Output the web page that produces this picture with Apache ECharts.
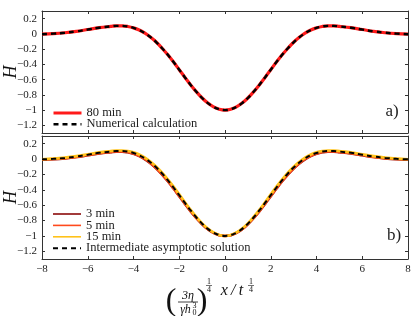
<!DOCTYPE html>
<html>
<head>
<meta charset="utf-8">
<script src="https://cdn.jsdelivr.net/npm/echarts@6/dist/echarts.min.js"></script>
<style>
html,body{margin:0;padding:0;background:#fff;}
#c{width:415px;height:316px;}
</style>
</head>
<body>
<div id="c"></div>
<script>
// x positions (scaled similarity variable)
const xs = [-8,-7.5,-7,-6.5,-6,-5.5,-5,-4.75,-4.5,-4.25,-4,-3.75,-3.5,-3.25,-3,-2.75,-2.5,-2.25,-2,-1.75,-1.5,-1.25,-1,-0.75,-0.5,-0.25,0,
            0.25,0.5,0.75,1,1.25,1.5,1.75,2,2.25,2.5,2.75,3,3.25,3.5,3.75,4,4.25,4.5,4.75,5,5.5,6,6.5,7,7.5,8];

// panel a)
const h80min = [-0.004,0.003,0.015,0.033,0.057,0.081,0.098,0.105,0.105,0.097,0.079,0.050,0.009,-0.045,-0.110,-0.188,-0.275,-0.370,-0.470,-0.571,-0.669,-0.760,-0.841,-0.908,-0.958,-0.989,-1.000,
                -0.989,-0.958,-0.908,-0.841,-0.760,-0.669,-0.571,-0.470,-0.370,-0.275,-0.188,-0.110,-0.045,0.009,0.050,0.079,0.097,0.105,0.105,0.098,0.081,0.057,0.033,0.015,0.003,-0.004];
const hNumerical = [-0.004,0.003,0.015,0.033,0.057,0.081,0.098,0.105,0.105,0.097,0.079,0.050,0.009,-0.045,-0.110,-0.188,-0.275,-0.370,-0.470,-0.571,-0.669,-0.760,-0.841,-0.908,-0.958,-0.989,-1.000,
                -0.989,-0.958,-0.908,-0.841,-0.760,-0.669,-0.571,-0.470,-0.370,-0.275,-0.188,-0.110,-0.045,0.009,0.050,0.079,0.097,0.105,0.105,0.098,0.081,0.057,0.033,0.015,0.003,-0.004];

// panel b)
const h3min = [-0.008,-0.002,0.009,0.026,0.049,0.073,0.090,0.097,0.097,0.088,0.068,0.038,-0.003,-0.058,-0.124,-0.202,-0.289,-0.384,-0.484,-0.584,-0.680,-0.769,-0.848,-0.913,-0.961,-0.990,-1.000,
               -0.990,-0.961,-0.913,-0.848,-0.769,-0.680,-0.584,-0.484,-0.384,-0.289,-0.202,-0.124,-0.058,-0.003,0.038,0.068,0.088,0.097,0.097,0.090,0.073,0.049,0.026,0.009,-0.002,-0.008];
const h5min = [-0.006,0.000,0.011,0.028,0.052,0.076,0.093,0.100,0.100,0.091,0.072,0.042,0.001,-0.054,-0.120,-0.198,-0.285,-0.380,-0.480,-0.580,-0.677,-0.766,-0.846,-0.912,-0.960,-0.990,-1.000,
               -0.990,-0.960,-0.912,-0.846,-0.766,-0.677,-0.580,-0.480,-0.380,-0.285,-0.198,-0.120,-0.054,0.001,0.042,0.072,0.091,0.100,0.100,0.093,0.076,0.052,0.028,0.011,0.000,-0.006];
const h15min = [-0.002,0.006,0.019,0.038,0.062,0.087,0.104,0.111,0.112,0.105,0.088,0.060,0.019,-0.034,-0.098,-0.176,-0.263,-0.358,-0.459,-0.561,-0.661,-0.753,-0.836,-0.904,-0.955,-0.988,-1.000,
                -0.988,-0.955,-0.904,-0.836,-0.753,-0.661,-0.561,-0.459,-0.358,-0.263,-0.176,-0.098,-0.034,0.019,0.060,0.088,0.105,0.112,0.111,0.104,0.087,0.062,0.038,0.019,0.006,-0.002];
const hAsymptotic = [-0.004,0.003,0.015,0.033,0.057,0.081,0.098,0.105,0.105,0.097,0.079,0.050,0.009,-0.045,-0.110,-0.188,-0.275,-0.370,-0.470,-0.571,-0.669,-0.760,-0.841,-0.908,-0.958,-0.989,-1.000,
                -0.989,-0.958,-0.908,-0.841,-0.760,-0.669,-0.571,-0.470,-0.370,-0.275,-0.188,-0.110,-0.045,0.009,0.050,0.079,0.097,0.105,0.105,0.098,0.081,0.057,0.033,0.015,0.003,-0.004];

// ticks
const yTicks = [-1.2,-1,-0.8,-0.6,-0.4,-0.2,0,0.2];
const xTicks = [-8,-6,-4,-2,0,2,4,6,8];

const FONT = "'Liberation Serif','DejaVu Serif',serif";
const AX = '#333';

function pairs(v){ return xs.map((x,i)=>[x,v[i]]); }
function fmt(v){
  let s = (Math.round(v*10)/10).toString();
  return s.replace('-', '\u2212');
}

function xAx(grid, pos, labels){
  return {
    type:'value', gridIndex:grid, position:pos, min:-8, max:8, interval:2,
    axisLine:{show:true, onZero:false, lineStyle:{color:AX, width:1}},
    axisTick:{show:true, inside:true, length:3, lineStyle:{color:AX}, customValues:xTicks},
    axisLabel:{show:labels, margin:5, fontFamily:FONT, fontSize:11, color:'#222', customValues:xTicks, formatter:fmt},
    splitLine:{show:false}
  };
}
function yAx(grid, pos, labels){
  const o = {
    type:'value', gridIndex:grid, position:pos, min:-1.3, max:0.3,
    axisLine:{show:true, onZero:false, lineStyle:{color:AX, width:1}},
    axisTick:{show:true, inside:true, length:3, lineStyle:{color:AX}, customValues:yTicks},
    axisLabel:{show:labels, margin:5, fontFamily:FONT, fontSize:11, color:'#222', customValues:yTicks, formatter:fmt},
    splitLine:{show:false}
  };
  if (labels) {
    o.name = 'H'; o.nameLocation = 'middle'; o.nameRotate = 90; o.nameGap = 22; o.nameMoveOverlap = false;
    o.nameTextStyle = {fontFamily:FONT, fontStyle:'italic', fontSize:18, color:'#111'};
  }
  return o;
}

const chart = echarts.init(document.getElementById('c'), null, {renderer:'canvas'});
const legendText = {fontFamily:FONT, fontSize:12.5, lineHeight:11, color:'#222'};

const option = {
  animation:false,
  backgroundColor:'#fff',
  grid:[
    {left:42, right:7, top:11, height:122, containLabel:false, outerBoundsMode:'none'},
    {left:42, right:7, top:136, height:123, containLabel:false, outerBoundsMode:'none'}
  ],
  xAxis:[xAx(0,'bottom',false), xAx(0,'top',false), xAx(1,'bottom',true), xAx(1,'top',false)],
  yAxis:[yAx(0,'left',true), yAx(0,'right',false), yAx(1,'left',true), yAx(1,'right',false)],
  legend:[
    {left:52, top:106.5, orient:'vertical', padding:0, itemGap:-1.8, itemWidth:28, itemHeight:11,
     selectedMode:false, textStyle:legendText, itemStyle:{opacity:0},
     data:[{name:'80 min', lineStyle:{width:3}}, {name:'Numerical calculation', lineStyle:{width:2.6}}]},
    {left:52, top:207.5, orient:'vertical', padding:0, itemGap:-1.6, itemWidth:28, itemHeight:11,
     selectedMode:false, textStyle:legendText, itemStyle:{opacity:0}, lineStyle:{width:1.6},
     data:['3 min','5 min','15 min',{name:'Intermediate asymptotic solution', lineStyle:{width:2}}]}
  ],
  series:[
    {name:'80 min', type:'line', xAxisIndex:0, yAxisIndex:0, data:pairs(h80min), smooth:0.4, showSymbol:false, symbol:'none',
     lineStyle:{color:'#ff1a1a', width:3.2}, itemStyle:{color:'#ff1a1a'}},
    {name:'Numerical calculation', type:'line', xAxisIndex:0, yAxisIndex:0, data:pairs(hNumerical), smooth:0.4, showSymbol:false, symbol:'none',
     lineStyle:{color:'#000', width:2.4, type:[5,4]}, itemStyle:{color:'#000'}},
    {name:'3 min', type:'line', xAxisIndex:2, yAxisIndex:2, data:pairs(h3min), smooth:0.4, showSymbol:false, symbol:'none',
     lineStyle:{color:'#8b0a0a', width:2.6}, itemStyle:{color:'#8b0a0a'}},
    {name:'5 min', type:'line', xAxisIndex:2, yAxisIndex:2, data:pairs(h5min), smooth:0.4, showSymbol:false, symbol:'none',
     lineStyle:{color:'#ff4a1c', width:2.6}, itemStyle:{color:'#ff4a1c'}},
    {name:'15 min', type:'line', xAxisIndex:2, yAxisIndex:2, data:pairs(h15min), smooth:0.4, showSymbol:false, symbol:'none',
     lineStyle:{color:'#ffc21a', width:2.6}, itemStyle:{color:'#ffc21a'}},
    {name:'Intermediate asymptotic solution', type:'line', xAxisIndex:2, yAxisIndex:2, data:pairs(hAsymptotic), smooth:0.4, showSymbol:false, symbol:'none',
     lineStyle:{color:'#000', width:2, type:[5,4]}, itemStyle:{color:'#000'}}
  ],
  graphic:[
    {type:'text', x:392, y:112, style:{text:'a)', font:'17px '+FONT, fill:'#222', textAlign:'center', textVerticalAlign:'middle', align:'center', verticalAlign:'middle'}},
    {type:'text', x:394, y:236, style:{text:'b)', font:'17px '+FONT, fill:'#222', textAlign:'center', textVerticalAlign:'middle', align:'center', verticalAlign:'middle'}},
    // x-axis label: (3η / γh0^3)^(1/4) x / t^(1/4)
    {type:'text', x:171, y:302, style:{text:'(', font:'32px '+FONT, fill:'#111', textAlign:'center', textVerticalAlign:'middle', align:'center', verticalAlign:'middle'}},
    {type:'text', x:188, y:295.5, style:{text:'3\u03b7', font:'italic 12px '+FONT, fill:'#111', textAlign:'center', textVerticalAlign:'middle', align:'center', verticalAlign:'middle'}},
    {type:'line', shape:{x1:178, y1:302, x2:198, y2:302}, style:{stroke:'#111', lineWidth:0.8}},
    {type:'text', x:185.5, y:309.5, style:{text:'\u03b3h', font:'italic 12px '+FONT, fill:'#111', textAlign:'center', textVerticalAlign:'middle', align:'center', verticalAlign:'middle'}},
    {type:'text', x:194.5, y:306, style:{text:'3', font:'8px '+FONT, fill:'#111', textAlign:'center', textVerticalAlign:'middle', align:'center', verticalAlign:'middle'}},
    {type:'text', x:194.5, y:313, style:{text:'0', font:'8px '+FONT, fill:'#111', textAlign:'center', textVerticalAlign:'middle', align:'center', verticalAlign:'middle'}},
    {type:'text', x:202, y:302, style:{text:')', font:'32px '+FONT, fill:'#111', textAlign:'center', textVerticalAlign:'middle', align:'center', verticalAlign:'middle'}},
    {type:'text', x:209, y:282, style:{text:'1', font:'8px '+FONT, fill:'#111', textAlign:'center', textVerticalAlign:'middle', align:'center', verticalAlign:'middle'}},
    {type:'line', shape:{x1:206, y1:285.5, x2:212, y2:285.5}, style:{stroke:'#111', lineWidth:0.6}},
    {type:'text', x:209, y:289.5, style:{text:'4', font:'8px '+FONT, fill:'#111', textAlign:'center', textVerticalAlign:'middle', align:'center', verticalAlign:'middle'}},
    {type:'text', x:232, y:291, style:{text:'x\u2009/\u2009t', font:'italic 16px '+FONT, fill:'#111', textAlign:'center', textVerticalAlign:'middle', align:'center', verticalAlign:'middle'}},
    {type:'text', x:251, y:282, style:{text:'1', font:'8px '+FONT, fill:'#111', textAlign:'center', textVerticalAlign:'middle', align:'center', verticalAlign:'middle'}},
    {type:'line', shape:{x1:248, y1:285.5, x2:254, y2:285.5}, style:{stroke:'#111', lineWidth:0.6}},
    {type:'text', x:251, y:289.5, style:{text:'4', font:'8px '+FONT, fill:'#111', textAlign:'center', textVerticalAlign:'middle', align:'center', verticalAlign:'middle'}}
  ]
};
chart.setOption(option);
</script>
</body>
</html>
